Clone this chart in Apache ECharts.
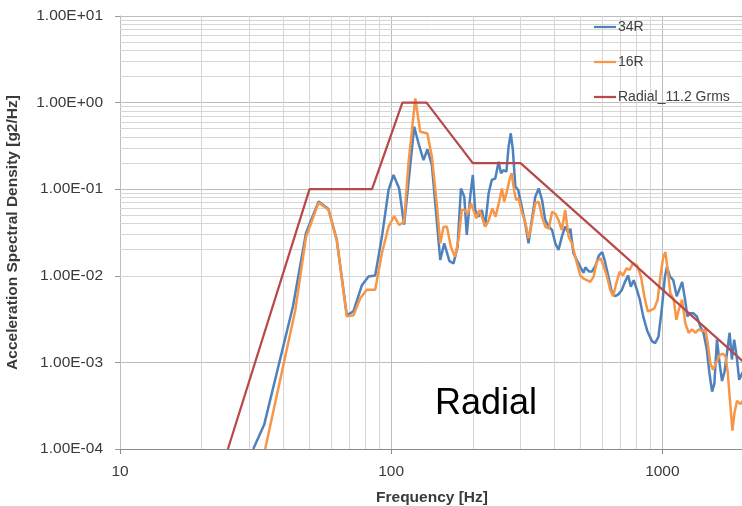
<!DOCTYPE html>
<html><head><meta charset="utf-8">
<script src="https://cdn.jsdelivr.net/npm/echarts@6/dist/echarts.min.js"></script>
<style>html,body{margin:0;padding:0;background:#fff}#c{width:742px;height:506px}</style>
</head><body><div id="c"></div>
<script>
// 34R measured PSD (Hz, g2/Hz)
const freq34 = [31,34,43.4,48.5,54,58.7,63,68.6,72.6,78,82.5,87.3,92.4,97.8,102,107,111.6,116.8,121.6,126.6,131.6,136,141.3,151.7,156.9,164,169.8,175.7,180.8,186,190,195.6,200,204,210,216,222,228.7,235,242,249,254,259,266,271,276,281,287,294,303,312,321,330,340,350,360,370,381,392,403,414,426,438,451,458,470,478,498,512,520,536,550,567,583,600,612,635,650,670,688,708,728,748,765,784,802,826,850,880,915,940,967,994,1022,1040,1067,1097,1130,1160,1183,1213,1236,1267,1300,1340,1380,1418,1457,1490,1525,1555,1590,1628,1660,1695,1730,1770,1805,1840,1880,1920,1975];
const psd34 = [1e-4,1.9e-4,4.4e-3,0.031,0.072,0.059,0.026,0.0035,0.0039,0.0078,0.0098,0.0101,0.028,0.098,0.146,0.102,0.039,0.153,0.527,0.324,0.217,0.289,0.19,0.0152,0.0237,0.0148,0.0139,0.0217,0.102,0.082,0.0296,0.082,0.146,0.0575,0.048,0.0575,0.0369,0.0897,0.128,0.133,0.207,0.153,0.166,0.16,0.31,0.442,0.284,0.107,0.098,0.0628,0.0404,0.0237,0.044,0.082,0.102,0.075,0.044,0.0369,0.0338,0.0237,0.0199,0.0283,0.0369,0.0312,0.035,0.0182,0.019,0.0127,0.0108,0.0125,0.0112,0.0112,0.0131,0.0171,0.0188,0.0153,0.0093,0.0066,0.0058,0.0061,0.0068,0.0085,0.0101,0.0075,0.0089,0.0072,0.0053,0.0034,0.0023,0.00176,0.00167,0.00197,0.0040,0.0098,0.0127,0.0098,0.0089,0.0058,0.0072,0.0085,0.0053,0.0034,0.0037,0.0037,0.0034,0.0026,0.0022,0.00144,0.00077,0.00046,0.00057,0.00183,0.00094,0.00061,0.00078,0.00126,0.0022,0.00108,0.00183,0.00116,0.00063,0.00077];
// 16R measured PSD
const freq16 = [34.3,44.3,48.5,54,58.7,63,68.6,72.6,76.9,81.3,87.3,92.4,97.8,102.6,107,111.6,115.8,122.7,128,136,141.3,147.6,151.7,156,160.5,166,172,177.8,182,186,191.6,197,202,206,211.5,218,222.5,229,236,242.6,250,256,261,267,274,278,284.5,289,295,303,312,321,330,340,350,360,370,381,392,403,414,426,438,451,464,482,498,512,527,542,558,574,591,607,625,643,658,677,696,716,737,757,780,807,820,834,858,883,908,934,961,983,1006,1026,1046,1070,1101,1126,1148,1182,1216,1250,1287,1324,1361,1401,1441,1470,1503,1538,1582,1627,1675,1712,1742,1771,1813,1844,1886,1940,1974];
const psd16 = [1e-4,0.004,0.028,0.070,0.058,0.026,0.0034,0.0035,0.0055,0.0069,0.0069,0.0182,0.0369,0.049,0.0386,0.042,0.199,1.12,0.461,0.44,0.237,0.0628,0.0237,0.0369,0.0369,0.0217,0.0166,0.0283,0.0575,0.0575,0.052,0.0687,0.055,0.046,0.0575,0.044,0.0369,0.044,0.060,0.048,0.0718,0.102,0.0718,0.0937,0.134,0.153,0.094,0.075,0.078,0.055,0.042,0.0272,0.0404,0.0687,0.0718,0.048,0.0369,0.035,0.055,0.052,0.044,0.0338,0.0575,0.0283,0.0237,0.0147,0.0101,0.0093,0.0089,0.0085,0.0098,0.0147,0.016,0.0131,0.0098,0.0068,0.0058,0.0083,0.0112,0.0101,0.0122,0.0117,0.014,0.0131,0.0135,0.0098,0.0058,0.0039,0.0040,0.0042,0.0053,0.0098,0.016,0.0188,0.0117,0.0063,0.0053,0.0031,0.0040,0.0053,0.0028,0.0022,0.0024,0.0022,0.0024,0.0023,0.0024,0.00166,0.00098,0.00082,0.0010,0.00122,0.00126,0.00116,0.00077,0.0004,0.000163,0.00026,0.00036,0.00033,0.00036];
// Radial_11.2 Grms spec
const freqSpec = [25,50,85,110,135,200,300,2000];
const psdSpec = [0.0001,0.1,0.1,1,1,0.2,0.2,0.001];
// axis ranges
const xMin = 10, xMax = 2000;
const yMin = 1e-4, yMax = 10;
// minor grid values (log-cycle 2..9)
const minorMult = [2,3,4,5,6,7,8,9];
const xDecades = [10,100,1000];
const yDecades = [1e-4,1e-3,1e-2,1e-1,1];

const xMinor = [];
xDecades.forEach(d => minorMult.forEach(m => { const v = d*m; if (v < xMax) xMinor.push(v); }));
const yMinor = [];
yDecades.forEach(d => minorMult.forEach(m => yMinor.push(+(d*m).toPrecision(3))));

const FONT = '"Liberation Sans", Arial, sans-serif';
const zip = (a, b) => a.map((v, i) => [v, b[i]]);
function expLabel(v) {
  const e = Math.round(Math.log10(v));
  return '1.00E' + (e < 0 ? '-' : '+') + String(Math.abs(e)).padStart(2, '0');
}

const chart = echarts.init(document.getElementById('c'), null, {renderer: 'canvas'});
chart.setOption({
  animation: false,
  backgroundColor: '#fff',
  textStyle: {fontFamily: FONT},
  grid: {left: 120, top: 16, width: 624, height: 433, outerBoundsMode: 'none', containLabel: false},
  legend: {
    orient: 'vertical', left: 594, top: 20, padding: 0, icon: 'rect',
    itemWidth: 22, itemHeight: 2.25, itemGap: 21,
    textStyle: {fontSize: 14, color: '#404040', fontFamily: FONT, padding: [0, 0, 0, -3]},
    data: ['34R', '16R', 'Radial_11.2 Grms']
  },
  xAxis: {
    type: 'log', logBase: 10, min: xMin, max: xMax,
    name: 'Frequency [Hz]', nameLocation: 'middle', nameGap: 41,
    nameTextStyle: {fontSize: 15.5, fontWeight: 'bold', color: '#3a3a3a', fontFamily: FONT},
    axisLine: {show: true, lineStyle: {color: '#8c8c8c', width: 1}},
    axisTick: {show: true, inside: false, length: 5, lineStyle: {color: '#8c8c8c'}},
    axisLabel: {fontSize: 15.5, color: '#3a3a3a', margin: 15, showMaxLabel: false,
      formatter: v => String(Math.round(v))},
    splitLine: {show: true, lineStyle: {color: '#bdbdbd', width: 1}},
    minorTick: {show: false}, minorSplitLine: {show: false}
  },
  yAxis: {
    type: 'log', logBase: 10, min: yMin, max: yMax,
    name: 'Acceleration Spectral Density [g2/Hz]', nameLocation: 'middle', nameGap: 99, nameRotate: 90,
    nameTextStyle: {fontSize: 15.5, fontWeight: 'bold', color: '#3a3a3a', fontFamily: FONT},
    axisLine: {show: true, lineStyle: {color: '#bdbdbd', width: 1}},
    axisTick: {show: true, inside: false, length: 5, lineStyle: {color: '#9a9a9a'}},
    axisLabel: {fontSize: 15.5, color: '#3a3a3a', margin: 17, formatter: expLabel},
    splitLine: {show: true, lineStyle: {color: '#bdbdbd', width: 1}}
  },
  graphic: [{
    type: 'text', left: 435, top: 386, z: 50,
    style: {text: 'Radial', font: '36px ' + FONT, fill: '#000'}
  }],
  series: [
    {
      name: 'minorGrid', type: 'line', data: [], silent: true, z: 1,
      markLine: {
        silent: true, symbol: 'none', z: 1, animation: false,
        label: {show: false},
        lineStyle: {color: '#d6d6d6', width: 1, type: 'solid'},
        emphasis: {disabled: true},
        data: xMinor.map(v => ({xAxis: v})).concat(yMinor.map(v => ({yAxis: v})))
      }
    },
    {
      name: '34R', type: 'line', z: 3, symbol: 'none', showSymbol: false,
      lineStyle: {color: '#4F81BD', width: 2.5}, itemStyle: {color: '#4F81BD'},
      data: zip(freq34, psd34)
    },
    {
      name: '16R', type: 'line', z: 4, symbol: 'none', showSymbol: false,
      lineStyle: {color: '#F79646', width: 2.5}, itemStyle: {color: '#F79646'},
      data: zip(freq16, psd16)
    },
    {
      name: 'Radial_11.2 Grms', type: 'line', z: 5, symbol: 'none', showSymbol: false,
      lineStyle: {color: '#B8494A', width: 2.25}, itemStyle: {color: '#B8494A'},
      data: zip(freqSpec, psdSpec)
    }
  ]
});
</script>
</body></html>
